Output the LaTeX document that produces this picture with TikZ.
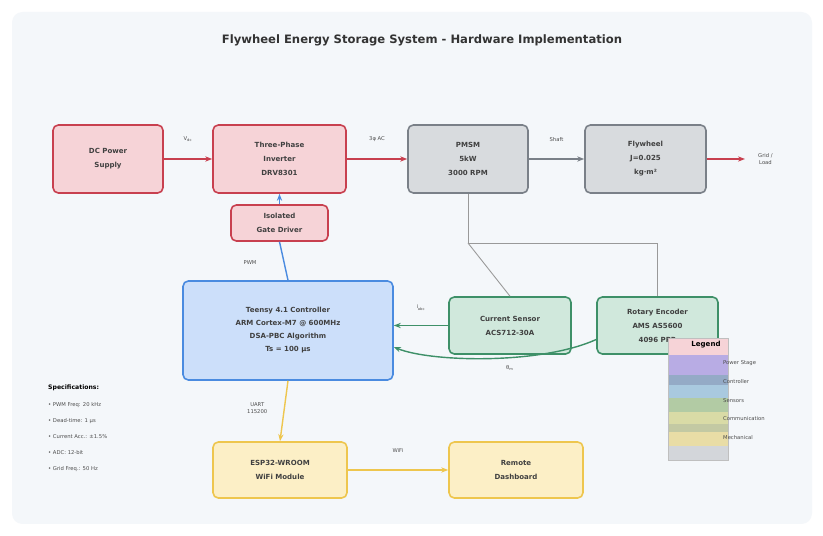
\documentclass[tikz,border=0pt]{standalone}
\usepackage{fontspec}
\setmainfont{DejaVu Sans}
\usetikzlibrary{arrows.meta}

\definecolor{panel}{HTML}{F4F7FA}
\definecolor{pwrfill}{HTML}{F6D3D7}
\definecolor{pwrline}{HTML}{C8404F}
\definecolor{mecfill}{HTML}{D8DBDE}
\definecolor{mecline}{HTML}{7A8088}
\definecolor{ctlfill}{HTML}{CCDFFA}
\definecolor{ctlline}{HTML}{4A8BE0}
\definecolor{senfill}{HTML}{D0E8DC}
\definecolor{senline}{HTML}{3E9068}
\definecolor{comfill}{HTML}{FCEFC6}
\definecolor{comline}{HTML}{EEC64E}
% legend swatches
\definecolor{lgA}{HTML}{B8ACE4}
\definecolor{lgB}{HTML}{94AAC6}
\definecolor{lgC}{HTML}{A9C9DF}
\definecolor{lgD}{HTML}{B2CBA4}
\definecolor{lgE}{HTML}{D9DBA6}
\definecolor{lgF}{HTML}{C3C9A3}
\definecolor{lgG}{HTML}{E9DDA6}
\definecolor{lgH}{HTML}{D3D6DA}

\tikzset{
  blk/.style={draw, rounded corners=3pt, line width=0.9pt, align=center,
    font=\fontsize{4}{8}\selectfont\bfseries, text=black!75},
  pwr/.style={blk, fill=pwrfill, draw=pwrline},
  mec/.style={blk, fill=mecfill, draw=mecline},
  ctl/.style={blk, fill=ctlfill, draw=ctlline},
  sen/.style={blk, fill=senfill, draw=senline},
  com/.style={blk, fill=comfill, draw=comline},
  lbl/.style={font=\fontsize{3}{4}\selectfont, text=black!70, align=center},
  tip/.style={-{Stealth[length=4pt,width=3pt]}, line width=0.8pt}
}

\begin{document}
\begin{tikzpicture}[x=0.02cm, y=-0.02cm]
  \useasboundingbox (0,0) rectangle (823,536);
  \fill[white] (0,0) rectangle (823,536);
  \fill[panel, rounded corners=6pt] (12,12) rectangle (812,524);

  \node[font=\fontsize{6.6}{8}\selectfont\bfseries, text=black!80] (title) at (422,40)
    {Flywheel Energy Storage System - Hardware Implementation};

  % power path
  \node[pwr, minimum width=2.2cm, minimum height=1.36cm] (dc) at (108,159) {DC Power\\Supply};
  \node[pwr, minimum width=2.66cm, minimum height=1.36cm] (inv) at (279.5,159) {Three-Phase\\Inverter\\DRV8301};
  \node[mec, minimum width=2.4cm, minimum height=1.36cm] (motor) at (468,159) {PMSM\\5kW\\3000 RPM};
  \node[mec, minimum width=2.42cm, minimum height=1.36cm] (fly) at (645.5,159) {Flywheel\\J=0.025\\kg·m²};
  \coordinate (out) at (745,159);

  \node[pwr, minimum width=1.94cm, minimum height=0.72cm] (gate) at (279.5,223) {Isolated\\Gate Driver};

  % control and sensing
  \node[ctl, minimum width=4.2cm, minimum height=1.98cm, font=\fontsize{4}{7.4}\selectfont\bfseries] (ctrl) at (288,330.5)
    {Teensy 4.1 Controller\\ARM Cortex-M7 @ 600MHz\\DSA-PBC Algorithm\\Ts = 100 µs};
  \node[sen, minimum width=2.44cm, minimum height=1.14cm] (cs) at (510,325.5) {Current Sensor\\ACS712-30A};
  \node[sen, minimum width=2.42cm, minimum height=1.14cm] (enc) at (657.5,325.5) {Rotary Encoder\\AMS AS5600\\4096 PPR};

  % communication
  \node[com, minimum width=2.68cm, minimum height=1.12cm] (esp) at (280,470) {ESP32-WROOM\\WiFi Module};
  \node[com, minimum width=2.68cm, minimum height=1.12cm] (dash) at (516,470) {Remote\\Dashboard};

  % connections
  \draw[tip, pwrline] (dc) -- (inv) node[lbl, midway, above=6pt] {V\textsubscript{dc}};
  \draw[tip, pwrline] (inv) -- (motor) node[lbl, midway, above=6pt] {3φ AC};
  \draw[tip, mecline] (motor) -- (fly) node[lbl, midway, above=6pt] {Shaft};
  \draw[tip, pwrline] (fly) -- (out);
  \node[lbl, right=4pt] (grid) at (out) {Grid /\\Load};

  \draw[tip, ctlline] (gate) -- (inv);
  \draw[line width=0.8pt, ctlline] (ctrl.north) -- (gate.south) node[lbl, pos=0.45, left=12pt] {PWM};

  \coordinate (tap) at (468,243);
  \draw[line width=0.5pt, black!40] (motor.south) -- (tap) -| (enc.north);
  \draw[line width=0.5pt, black!40] (tap) -- (cs.north);

  \draw[tip, senline] (cs.west) -- (ctrl.east |- cs.west) node[lbl, midway, above=5pt] {i\textsubscript{abc}};
  \draw[tip, senline] ([yshift=-0.28cm]enc.west) .. controls (540,365) and (430,362) .. ([yshift=-0.33cm]ctrl.east);
  \node[lbl] (theta) at (510,368) {θ\textsubscript{m}};

  \draw[tip, comline] (ctrl.south) -- (esp.north) node[lbl, pos=0.45, left=6pt] {UART\\115200};
  \draw[tip, comline] (esp) -- (dash) node[lbl, midway, above=6pt] {WiFi};

  % legend
  \fill[pwrfill] (668,338) rectangle (728,355);
  \foreach \c/\ya/\yb in {lgA/355/375, lgB/375/385, lgC/385/398, lgD/398/412, lgE/412/424, lgF/424/432, lgG/432/446, lgH/446/460}
    \fill[\c] (668,\ya) rectangle (728,\yb);
  \draw[black!25, line width=0.4pt] (668,338) rectangle (728,460);
  \node[font=\fontsize{4}{5}\selectfont\bfseries] (legend) at (706,345) {Legend};
  \foreach \y/\t in {363/Power Stage, 382/Controller, 401/Sensors, 419/Communication, 438/Mechanical}
    \node[lbl, anchor=west] at (717,\y) {\t};

  % specifications
  \node[font=\fontsize{3.5}{4}\selectfont\bfseries, anchor=west] (spec) at (42,388) {Specifications:};
  \foreach \y/\t in {405/• PWM Freq: 20 kHz, 421/• Dead-time: 1 µs, 437/• Current Acc.: ±1.5\%, 453/• ADC: 12-bit, 469/• Grid Freq.: 50 Hz}
    \node[lbl, anchor=west] at (42,\y) {\t};
\end{tikzpicture}
\end{document}
